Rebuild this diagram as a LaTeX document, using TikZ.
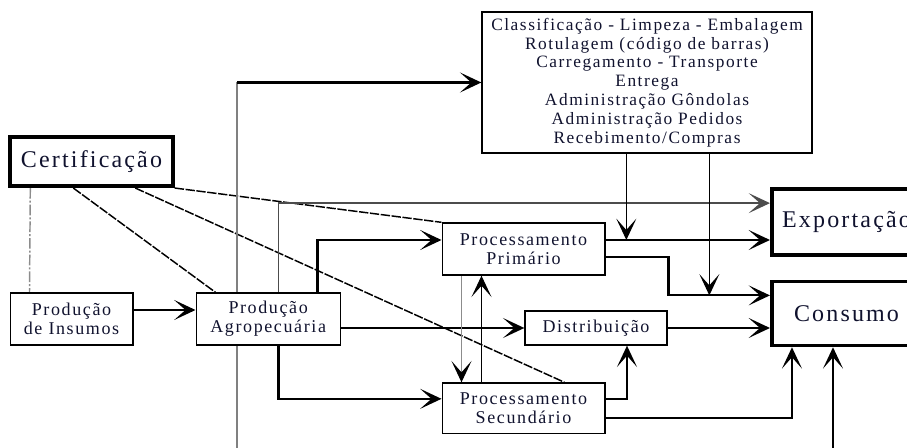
\documentclass[tikz,border=0pt]{standalone}
\usepackage{fontspec}
\setmainfont{Liberation Serif}[LetterSpace=9]
\usepackage{xcolor}
\usetikzlibrary{positioning,arrows.meta,calc,backgrounds}
\definecolor{txtblue}{HTML}{10122E}

\begin{document}
\begin{tikzpicture}[
  x=0.75pt, y=-0.75pt,
  >={Stealth[length=16pt,width=15pt,inset=8.5pt]},
  box/.style={draw, line width=1pt, fill=white, inner sep=0pt, align=center,
    text=txtblue, font=\fontsize{13.5}{14.2}\selectfont},
  bigbox/.style={box, line width=2.8pt, font=\fontsize{18}{20}\selectfont},
  flow/.style={->, line width=1.6pt},
  link/.style={->, line width=1pt},
  greylink/.style={-{Stealth[length=16pt,width=15pt,inset=8.5pt,color=black]}, line width=1.1pt, draw=black!45},
  certline/.style={line width=1.1pt, dash pattern=on 7pt off 1.2pt}
]
  \useasboundingbox (0,0) rectangle (907,448);

  % boxes
  \node (cert) [bigbox, minimum width=122pt, minimum height=37pt] at (91.5,161.5) {Certificação};
  \node (insumos) [box, minimum width=92pt, minimum height=39pt] at (71.5,319) {Produção\\de Insumos};
  \node (agro) [box, minimum width=108pt, minimum height=39pt, right=46.5pt of insumos] {Produção\\Agropecuária};

  \node (pprim) [box, minimum width=122pt, minimum height=39pt] at (523.5,249) {Processamento\\Primário};
  \node (psec) [box, minimum width=122pt, minimum height=38pt, below=80pt of pprim] {Processamento\\Secundário};
  \node (distrib) [box, minimum width=106.5pt, minimum height=25.5pt] at (596,328) {Distribuição};

  \node (topbox) [box, minimum width=247.5pt, minimum height=105.75pt, font=\fontsize{13}{14.1}\selectfont] at (647,82.5) {
    Classificação - Limpeza - Embalagem\\
    Rotulagem (código de barras)\\
    Carregamento - Transporte\\
    Entrega\\
    Administração Gôndolas\\
    Administração Pedidos\\
    Recebimento/Compras};

  \node (export) [bigbox, minimum width=112pt, minimum height=49.5pt] at (846.5,222) {Exportação};
  \node (consumo) [bigbox, minimum width=112pt, minimum height=48pt, below=17pt of export] {Consumo};

  % free ends and junctions
  \coordinate (feed) at (237,470);
  \coordinate (supply) at (833,470);
  \coordinate (tA) at ($(topbox.south west)+(145,0)$);
  \coordinate (tB) at ($(topbox.south west)+(228,0)$);
  \coordinate (xp) at ($(pprim.east)+(0,-9)$);
  \coordinate (cin) at ($(consumo.west)+(0,-18)$);

  \begin{scope}[on background layer]
    % Certificacao links
    \draw[certline, draw=black!45, dash pattern=on 8pt off 1.5pt on 1.5pt off 1.5pt]
      ($(cert.south west)+(22,0)$) -- ($(insumos.north west)+(20,0)$);
    \draw[certline] ($(cert.south west)+(65,0)$) -- ($(agro.north west)+(20,0)$);
    \draw[certline] ($(cert.south west)+(127,0)$) -- ($(psec.north west)+(123,0)$);
    \draw[certline] (cert.south east) -- (pprim.north west);

    % into the top box
    \draw[line width=1.1pt, draw=black!50] (feed) -- (feed |- topbox.west);
    \draw[flow] (feed |- topbox.west) -- (topbox.west);

    % from Producao
    \draw[flow] ($(insumos.east)+(0,-9)$) -- ($(agro.west)+(0,-9)$);
    \draw[link, draw=black!70] ($(agro.north west)+(83,0)$) |- ($(export.north west)+(0,16)$);
    \draw[flow] ($(agro.north west)+(122,0)$) |- ($(pprim.west)+(0,-9)$);
    \draw[flow] ($(agro.south west)+(83,0)$) |- ($(psec.west)+(0,-9.5)$);
    \draw[flow] (distrib.west -| agro.east) -- (distrib.west);

    % between the processing boxes
    \draw[greylink] ($(pprim.south west)+(20,0)$) -- ($(psec.north west)+(20,0)$);
    \draw[link] ($(psec.north west)+(40,0)$) -- ($(pprim.south west)+(40,0)$);

    % to Exportacao and Consumo
    \draw[flow, line width=2.1pt] (xp) -- (xp -| export.west);
    \draw[flow] ($(pprim.east)+(0,8)$) -- ++(63,0) |- (cin);
    \draw[link] (tA) -- (tA |- xp);
    \draw[link] (tB) -- (tB |- cin);
    \draw[flow] (distrib.east) -- (distrib.east -| consumo.west);
    \draw[flow] ($(psec.east)+(0,-9.5)$) -| ($(distrib.south)+(31,0)$);
    \draw[link, line width=1.3pt] ($(psec.east)+(0,9.5)$) -| ($(consumo.south west)+(22,0)$);
    \draw[flow] (supply) -- (supply |- consumo.south);
  \end{scope}
\end{tikzpicture}
\end{document}
